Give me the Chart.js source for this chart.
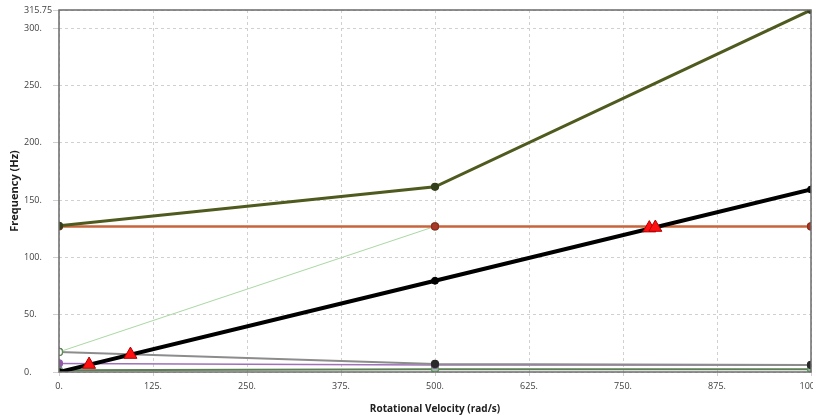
<!DOCTYPE html>
<html>
<head>
<meta charset="utf-8">
<script src="https://cdn.jsdelivr.net/npm/chart.js@4.4.1/dist/chart.umd.min.js"></script>
<style>
  html, body { margin: 0; padding: 0; background: #fff; overflow: hidden; }
  #wrap { width: 830px; height: 419px; position: relative; }
</style>
</head>
<body>
<div id="wrap"><canvas id="campbell"></canvas></div>
<script>
// rotational velocity (rad/s) at which the modes were solved
const speeds = [0, 500, 1000];

// mode frequencies (Hz) at each speed
const mode1 = [1.5, 2.5, 2.5];
const mode2 = [7.5, 6.2, 6];
const mode3 = [17.5, 7, 6.2];
const mode4 = [17.5, 127, 127];
const mode5 = [127, 127, 127];
const mode6 = [127.5, 161.5, 315.75];

// 1x excitation line
const ratio1x = [0, 79.6, 159.2];

// critical speeds (red triangles)
const critSpeed = [40, 95, 785, 793];
const critFreq = [6.5, 15.2, 125.5, 126];

const yTicks = [0, 50, 100, 150, 200, 250, 300, 315.75];
const xTicks = [0, 125, 250, 375, 500, 625, 750, 875, 1000];

const pts = (ys) => speeds.map((s, i) => ({x: s, y: ys[i]}));

function lineSet(label, ys, color, width, ptColor, ptFill) {
  return {
    label, data: pts(ys), yAxisID: 'y', borderColor: color, borderWidth: width,
    pointRadius: 3.5, pointBackgroundColor: ptFill || ptColor, pointBorderColor: ptColor,
    pointBorderWidth: 1.2, tension: 0
  };
}

const frame = {
  id: 'frame',
  afterDatasetsDraw(chart) {
    const a = chart.chartArea, c = chart.ctx;
    c.save();
    c.strokeStyle = '#6a6a6a';
    c.lineWidth = 1.5;
    c.strokeRect(a.left, a.top, a.right - a.left, a.bottom - a.top);
    c.restore();
  }
};

const tickFont = {family: 'Open Sans', size: 9};

new Chart(document.getElementById('campbell'), {
  type: 'line',
  data: {
    datasets: [
      {label: 'Critical Speed', data: critSpeed.map((s, i) => ({x: s, y: critFreq[i]})), yAxisID: 'y',
       showLine: false, pointStyle: 'triangle', pointRadius: 7.5,
       pointBackgroundColor: '#ff1010', pointBorderColor: '#b00000', pointBorderWidth: 1},
      {label: '1x', data: pts(ratio1x), yAxisID: 'y', borderColor: '#000', borderWidth: 4,
       pointRadius: 3.5, pointBorderWidth: 1, pointBackgroundColor: '#000', pointBorderColor: '#000'},
      lineSet('Mode 6', mode6, '#4e5a1e', 3, '#34401a'),
      lineSet('Mode 5', mode5, '#c8643c', 2.5, '#8e2a1c', '#a8382a'),
      lineSet('Mode 4', mode4, '#a9d8a2', 1, '#5d8f58', '#ffffff'),
      lineSet('Mode 3', mode3, '#8c8c8c', 2, '#2a2a2a'),
      lineSet('Mode 2', mode2, '#a070b8', 1.5, '#8e5aa8'),
      lineSet('Mode 1', mode1, '#5e7e56', 2, '#5e9a62', '#8fc292')
    ]
  },
  options: {
    responsive: true,
    maintainAspectRatio: false,
    animation: false,
    layout: {padding: {top: 10, right: 19, bottom: 0, left: 0}},
    plugins: {legend: {display: false}, tooltip: {enabled: false}},
    scales: {
      x: {
        type: 'linear', min: 0, max: 1000,
        afterBuildTicks: (s) => { s.ticks = xTicks.map(v => ({value: v})); },
        afterFit: (s) => { s.height = 47; },
        ticks: {font: tickFont, color: '#404040', padding: 5, maxRotation: 0,
                callback: (v) => v + '.'},
        grid: {color: '#d0d0d0', tickLength: 4},
        border: {display: false, dash: [3, 3]},
        title: {display: true, text: 'Rotational Velocity (rad/s)', color: '#202020',
                font: {family: 'Open Sans', size: 10, weight: 'bold'}, padding: {top: 0, bottom: 4}}
      },
      yTitle: {
        position: 'left', weight: 2, min: 0, max: 1,
        afterFit: (s) => { s.width = 24; },
        ticks: {display: false}, grid: {display: false}, border: {display: false},
        title: {display: true, text: 'Frequency (Hz)', color: '#202020',
                font: {family: 'Open Sans', size: 11, weight: 'bold'}, padding: {top: 8, bottom: 0}}
      },
      y: {
        position: 'left', weight: 1, min: 0, max: 315.75,
        afterBuildTicks: (s) => { s.ticks = yTicks.map(v => ({value: v})); },
        afterFit: (s) => { s.width = 35; },
        ticks: {font: tickFont, color: '#404040', crossAlign: 'far', padding: 3,
                callback: (v) => Number.isInteger(v) ? v + '.' : String(v)},
        grid: {color: '#d0d0d0', tickLength: 6},
        border: {display: false, dash: [3, 3]}
      }
    }
  },
  plugins: [frame]
});
</script>
</body>
</html>
